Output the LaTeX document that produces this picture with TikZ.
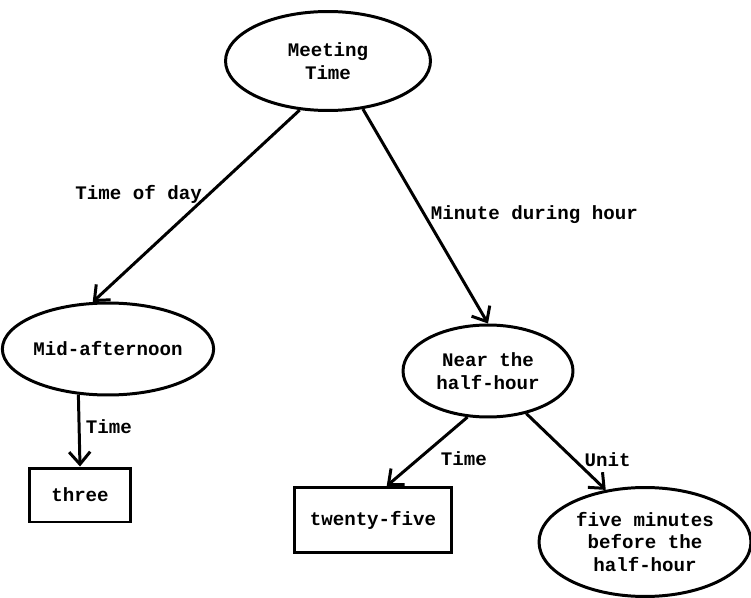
\documentclass[tikz,border=0pt]{standalone}
\usepackage{fontspec}
\setmonofont{Liberation Mono}
\usepackage{tikz}
\usetikzlibrary{shapes.geometric}
\usetikzlibrary{arrows.meta}

\begin{document}
\begin{tikzpicture}[x=0.02cm, y=-0.02cm,
		line width=1.7pt,
		>={Straight Barb[length=7pt,width=12pt]},
		every node/.style={font=\ttfamily\bfseries\fontsize{10.9}{13}\selectfont, align=center, inner sep=0pt},
		concept/.style={draw, ellipse},
		value/.style={draw, rectangle},
		slot/.style={inner sep=3pt}]
			\useasboundingbox (0, 0) rectangle (751, 598);
			% nodes
			\node[concept, minimum width=4.1cm, minimum height=1.98cm] (meet) at (328, 61) {Meeting\\Time};
			\node[concept, minimum width=3.8cm, minimum height=1.84cm] (mid) at (108, 349) {Mid-afternoon};
			\node[concept, minimum width=3.4cm, minimum height=1.84cm] (near) at (488, 371) {Near the\\half-hour};
			\node[concept, minimum width=4.24cm, minimum height=2.18cm] (five) at (645, 542) {five minutes\\before the\\half-hour};
			\node[value, minimum width=2.04cm, minimum height=1.08cm] (three) at (80, 495) {three};
			\node[value, minimum width=3.14cm, minimum height=1.3cm] (twenty) at (373, 520) {twenty-five};
			% slots
			\draw[->] (meet.240) -- (mid.108) node[slot, pos=0.44, anchor=east] (tod) {Time of day};
			\draw[->] (meet.306) -- (near.north) node[slot, pos=0.49, anchor=west] (mdh) {Minute during hour};
			\draw[->] (mid.237) -- (three.north) node[slot, pos=0.45, anchor=west] (tmid) {Time};
			\draw[->] (near.246) -- (twenty.68) node[slot, pos=0.6, anchor=west, xshift=0.3cm] (tnear) {Time};
			\draw[->] (near.312) -- (five.127) node[slot, pos=0.6, anchor=west, xshift=0.08cm] (unit) {Unit};
		\end{tikzpicture}
\end{document}
